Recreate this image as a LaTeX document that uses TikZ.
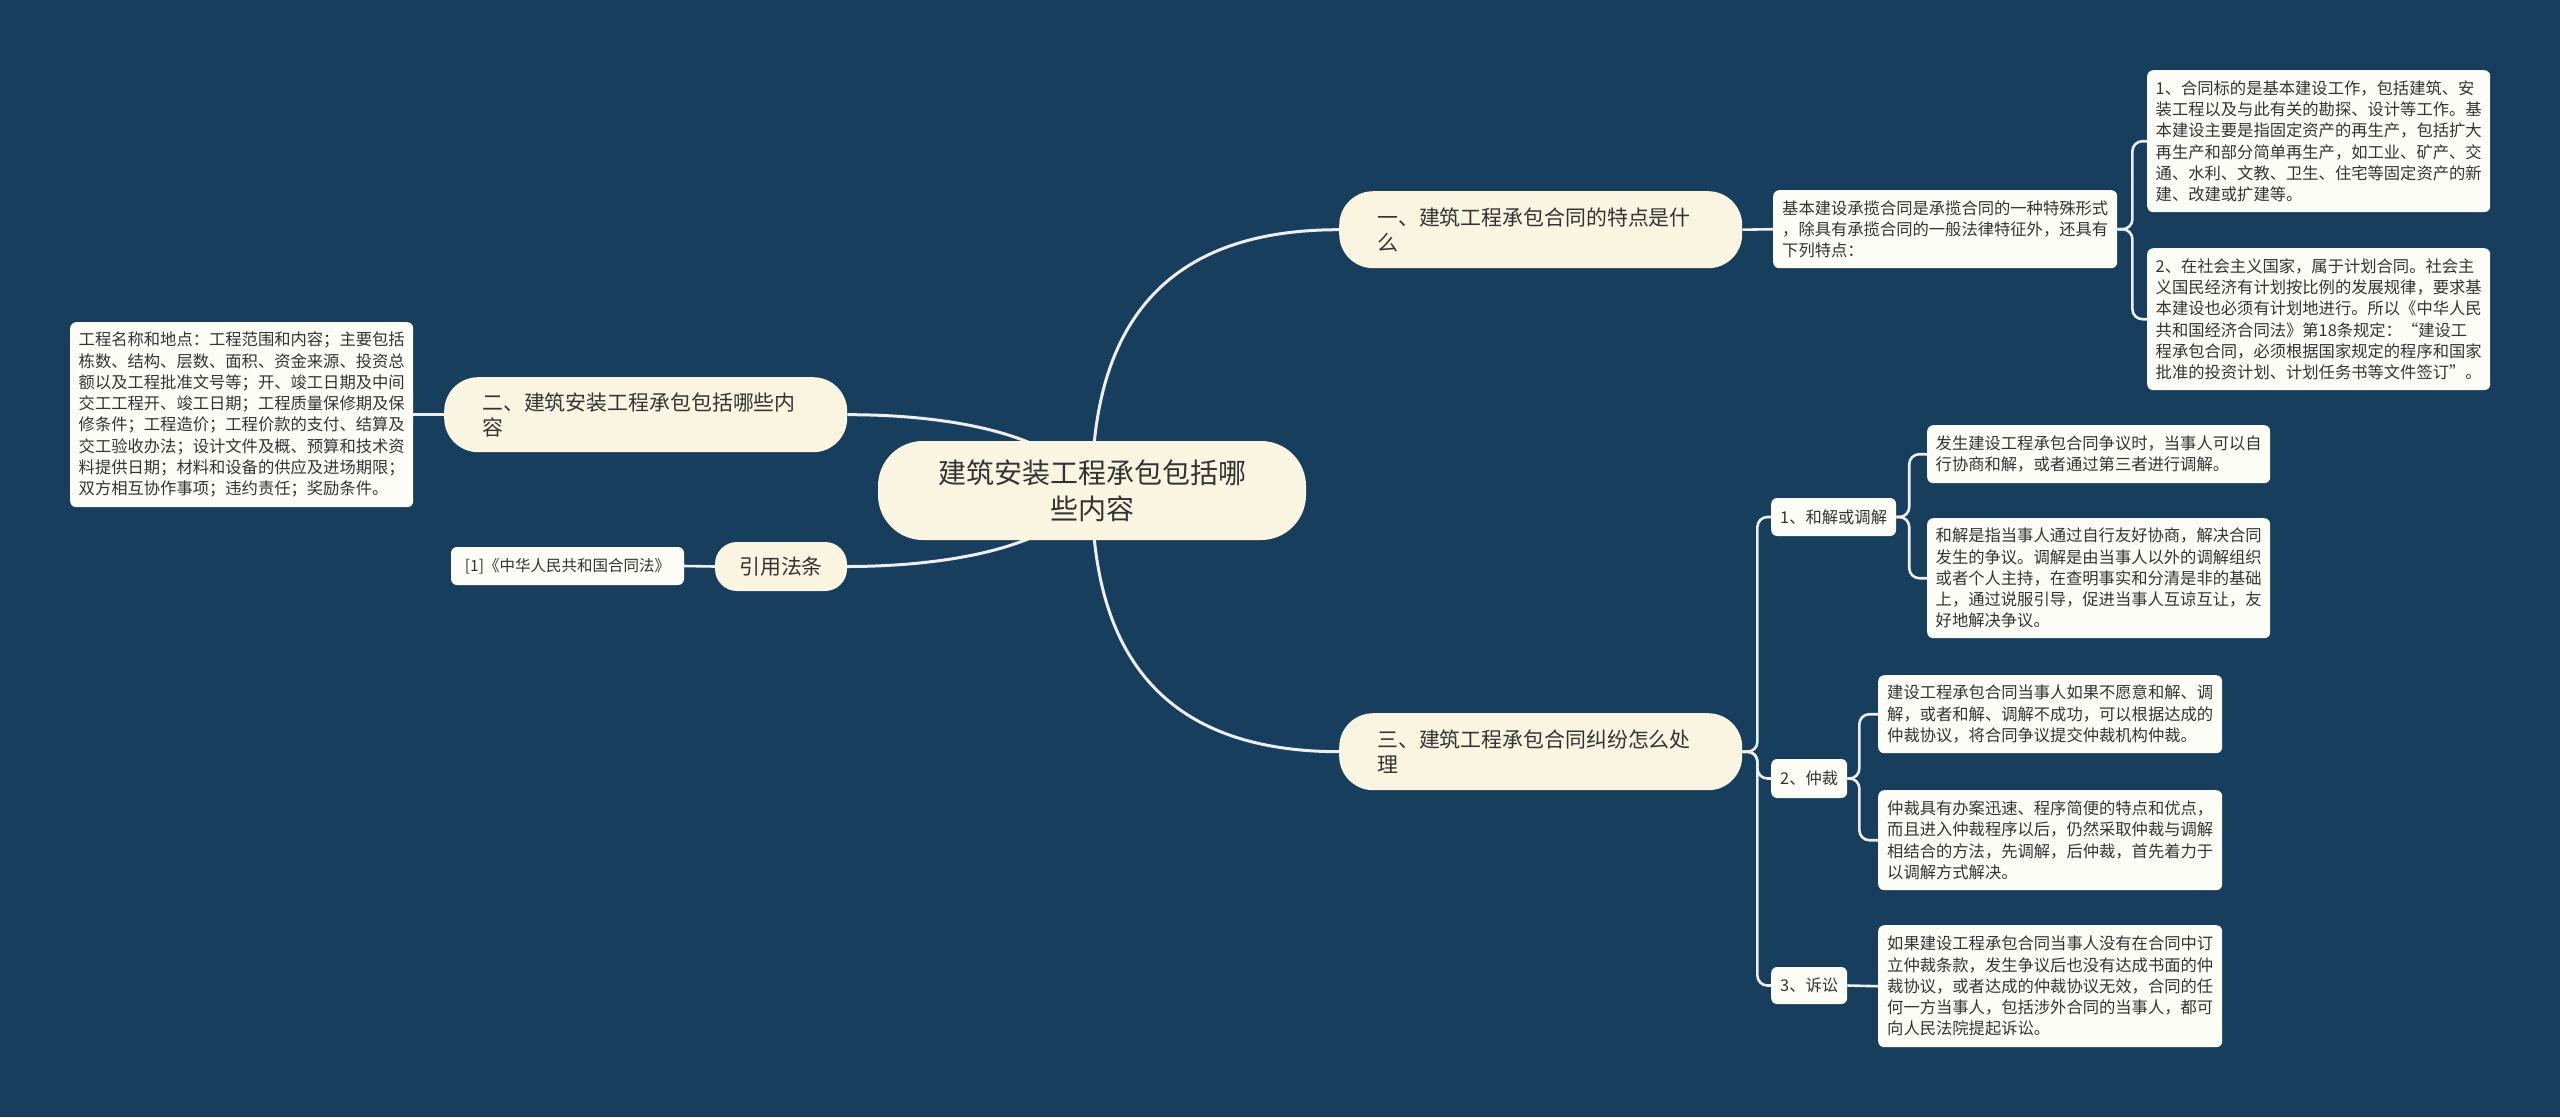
\documentclass[tikz,border=0pt]{standalone}
\usepackage{fontspec}
\newfontfamily\cjk{Noto Sans CJK SC}
\usetikzlibrary{backgrounds}
\definecolor{bgc}{RGB}{24,62,94}
\definecolor{creamc}{RGB}{250,245,225}
\definecolor{leafc}{RGB}{253,253,248}
\definecolor{txtc}{RGB}{51,51,51}
\definecolor{linec}{RGB}{238,238,238}
\begin{document}
\begin{tikzpicture}[x=1pt,y=-1pt,
  rootnode/.style={fill=creamc, rounded corners=45pt, minimum width=428pt, minimum height=99pt, align=center, text=txtc, font=\cjk\fontsize{28}{36}\selectfont, inner sep=0pt},
  branchnode/.style={fill=creamc, rounded corners=34pt, text width=327pt, inner xsep=38pt, inner ysep=0pt, minimum height=77pt, align=left, text=txtc, font=\cjk\fontsize{20.9}{25}\selectfont},
  citenode/.style={fill=creamc, rounded corners=22pt, minimum width=132pt, minimum height=49pt, inner sep=0pt, text=txtc, font=\cjk\fontsize{20.9}{25}\selectfont},
  leaf/.style={fill=leafc, rounded corners=6pt, inner xsep=8pt, inner ysep=0pt, align=left, text=txtc, font=\cjk\fontsize{16.3}{21.3}\selectfont, anchor=north west},
  labelnode/.style={fill=leafc, rounded corners=6pt, inner xsep=9pt, inner ysep=0pt, minimum height=38pt, text=txtc, font=\cjk\fontsize{16.3}{21.3}\selectfont, anchor=west},
  conn/.style={draw=linec, line width=2.6pt},
  curve/.style={draw=linec, line width=3pt},
  elbow/.style={draw=linec, line width=2.6pt, rounded corners=10pt},
]
\useasboundingbox (0,0) rectangle (2560,1117);

% root and branches
\node[rootnode] (root) at (1092,490.5) {建筑安装工程承包包括哪\\些内容};
\node[branchnode, anchor=north west] (b1) at (1339,191) {一、建筑工程承包合同的特点是什\\么};
\node[branchnode, anchor=north west] (b3) at (1339,713) {三、建筑工程承包合同纠纷怎么处\\理};
\node[branchnode, anchor=north west, minimum height=75pt] (b2) at (444,377) {二、建筑安装工程承包包括哪些内\\容};
\node[citenode] (yy) at (781,566.5) {引用法条};
\node[leaf, anchor=center, minimum width=233pt, minimum height=38pt, font=\cjk\fontsize{15.5}{20}\selectfont, inner xsep=6pt] (ref) at (567.5,566) {[1]《中华人民共和国合同法》};

% left detail
\node[leaf, minimum width=343pt, minimum height=185pt] (ld) at (70,322) {工程名称和地点：工程范围和内容；主要包括\\栋数、结构、层数、面积、资金来源、投资总\\额以及工程批准文号等；开、竣工日期及中间\\交工工程开、竣工日期；工程质量保修期及保\\修条件；工程造价；工程价款的支付、结算及\\交工验收办法；设计文件及概、预算和技术资\\料提供日期；材料和设备的供应及进场期限；\\双方相互协作事项；违约责任；奖励条件。};

% branch 1 details
\node[leaf, minimum width=344pt, minimum height=78pt] (jb) at (1773,190) {基本建设承揽合同是承揽合同的一种特殊形式\\，除具有承揽合同的一般法律特征外，还具有\\下列特点：};
\node[leaf, minimum width=343pt, minimum height=142pt] (tr1) at (2147,70) {1、合同标的是基本建设工作，包括建筑、安\\装工程以及与此有关的勘探、设计等工作。基\\本建设主要是指固定资产的再生产，包括扩大\\再生产和部分简单再生产，如工业、矿产、交\\通、水利、文教、卫生、住宅等固定资产的新\\建、改建或扩建等。};
\node[leaf, minimum width=343pt, minimum height=142pt] (tr2) at (2147,248) {2、在社会主义国家，属于计划合同。社会主\\义国民经济有计划按比例的发展规律，要求基\\本建设也必须有计划地进行。所以《中华人民\\共和国经济合同法》第18条规定：“建设工\\程承包合同，必须根据国家规定的程序和国家\\批准的投资计划、计划任务书等文件签订”。};

% branch 3 labels
\node[labelnode] (l1) at (1771,517) {1、和解或调解};
\node[labelnode, minimum height=39pt] (l2) at (1771,778.5) {2、仲裁};
\node[labelnode, minimum height=37pt] (l3) at (1771,985.5) {3、诉讼};

\node[leaf, minimum width=343pt, minimum height=58pt] (c11) at (1927,425) {发生建设工程承包合同争议时，当事人可以自\\行协商和解，或者通过第三者进行调解。};
\node[leaf, minimum width=343pt, minimum height=120pt] (c12) at (1927,518) {和解是指当事人通过自行友好协商，解决合同\\发生的争议。调解是由当事人以外的调解组织\\或者个人主持，在查明事实和分清是非的基础\\上，通过说服引导，促进当事人互谅互让，友\\好地解决争议。};
\node[leaf, minimum width=344pt, minimum height=78pt] (c21) at (1878,675) {建设工程承包合同当事人如果不愿意和解、调\\解，或者和解、调解不成功，可以根据达成的\\仲裁协议，将合同争议提交仲裁机构仲裁。};
\node[leaf, minimum width=344pt, minimum height=100pt] (c22) at (1878,790) {仲裁具有办案迅速、程序简便的特点和优点，\\而且进入仲裁程序以后，仍然采取仲裁与调解\\相结合的方法，先调解，后仲裁，首先着力于\\以调解方式解决。};
\node[leaf, minimum width=344pt, minimum height=122pt] (c31) at (1878,925) {如果建设工程承包合同当事人没有在合同中订\\立仲裁条款，发生争议后也没有达成书面的仲\\裁协议，或者达成的仲裁协议无效，合同的任\\何一方当事人，包括涉外合同的当事人，都可\\向人民法院提起诉讼。};

\begin{pgfonlayer}{background}
\fill[bgc] (0,0) rectangle (2560,1117);
\draw[curve] (root.center) .. controls (1092,330) and (1160,229.5) .. (b1.west);
\draw[curve] (root.center) .. controls (1092,651) and (1160,751.5) .. (b3.west);
\draw[curve] (root.center) .. controls (1055,428) and (930,414.5) .. (b2.east);
\draw[curve] (root.center) .. controls (1055,553) and (930,566.5) .. (yy.east);
\draw[conn] (b1.east) -- (jb.west);
\draw[conn] (b2.west) -- (ld.east);
\draw[conn] (yy.west) -- (ref.east);
\draw[elbow] (jb.east) -- ++(15,0) |- (tr1.west);
\draw[elbow] (jb.east) -- ++(15,0) |- (tr2.west);
\draw[elbow] (b3.east) -- ++(15,0) |- (l1.west);
\draw[elbow] (b3.east) -- ++(15,0) |- (l2.west);
\draw[elbow] (b3.east) -- ++(15,0) |- (l3.west);
\draw[elbow] (l1.east) -- ++(13,0) |- (c11.west);
\draw[elbow] (l1.east) -- ++(13,0) |- (c12.west);
\draw[elbow] (l2.east) -- ++(12,0) |- (c21.west);
\draw[elbow] (l2.east) -- ++(12,0) |- (c22.west);
\draw[conn] (l3.east) -- (c31.west);
\end{pgfonlayer}
\end{tikzpicture}
\end{document}
